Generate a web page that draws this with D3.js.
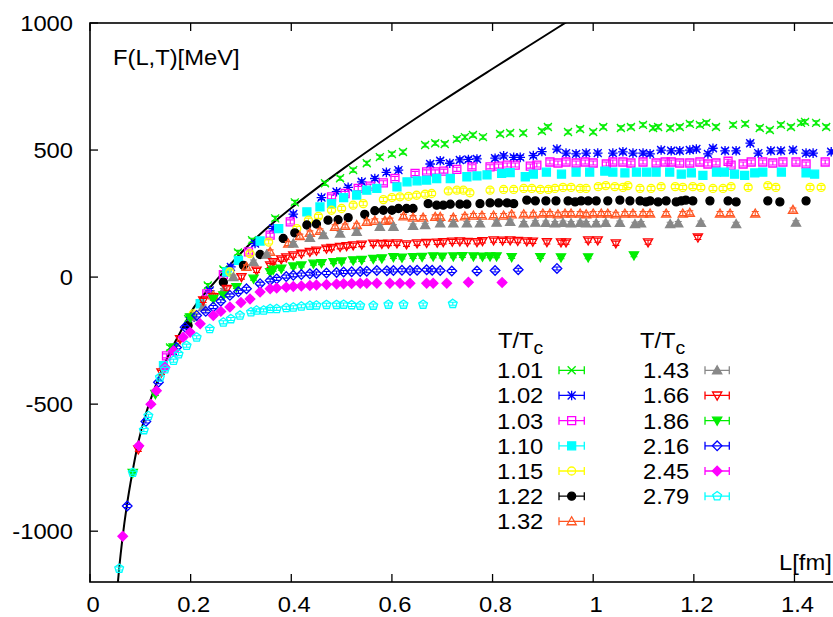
<!DOCTYPE html>
<html><head><meta charset="utf-8">
<script src="https://cdn.jsdelivr.net/npm/d3@7"></script>
<style>
html,body{margin:0;padding:0;background:#fff;}
svg{display:block;}
text{font-family:"Liberation Sans",Arial,Helvetica,sans-serif;fill:#000;}
</style></head>
<body>
<svg id="chart" width="833" height="617"></svg>
<script>
// ---------------- data ----------------
const temps = ["1.01","1.02","1.03","1.10","1.15","1.22","1.32","1.43","1.66","1.86","2.16","2.45","2.79"];
const colors = ["#00ee00","#0000ff","#ff00ff","#00ffff","#ffff00","#000000","#ff5522","#888888","#ff0000","#00ee00","#0000ff","#ff00ff","#00ffff"];
const symbols = ["cross","star","square","squareF","circle","circleF","tri","triF","triDown","triDownF","diamond","diamondF","pentagon"];
const seriesErr = [8,8,8,8,8,8,8,8,8,6,6,6,6];

const xTicks = [0,0.2,0.4,0.6,0.8,1,1.2,1.4];
const xTickLabels = ["0","0.2","0.4","0.6","0.8","1","1.2","1.4"];
const yTicks = [-1000,-500,0,500,1000];
const yTickLabels = ["-1000","-500","0","500","1000"];

// T=0 curve
const curveT0 = [[0.0555,-1200],[0.058,-1146],[0.065,-1020],[0.073,-902],[0.084,-771],[0.096,-650],[0.11,-545],[0.119,-490],[0.14,-380],[0.16,-290],[0.18,-215],[0.2,-140],[0.25,-15],[0.3,95],[0.35,190],[0.4,272],[0.5,422],[0.6,561],[0.7,693],[0.8,820],[0.9,945],[0.96,1020]];

const s101 = [[0.159,-277],[0.195,-165],[0.234,-33],[0.265,30],[0.294,97],[0.322,145],[0.368,231],[0.407,294],[0.467,369],[0.497,389],[0.523,421],[0.550,448],[0.576,472],[0.600,484],[0.622,492],[0.666,520],[0.686,527],[0.705,524],[0.729,543],[0.745,551],[0.761,559],[0.781,551],[0.815,563],[0.835,567],[0.861,567],[0.898,575],[0.910,591],[0.950,571],[0.974,583],[1.000,571],[1.020,591],[1.055,587],[1.075,591],[1.099,599],[1.119,587],[1.129,591],[1.153,587],[1.172,591],[1.192,603],[1.212,599],[1.225,607],[1.244,591],[1.278,599],[1.302,603],[1.331,587],[1.351,579],[1.373,599],[1.393,591],[1.413,607],[1.421,611],[1.443,607],[1.463,591]];
const s102 = [[0.166,-296],[0.200,-160],[0.238,-53],[0.280,40],[0.328,132],[0.364,191],[0.404,248],[0.460,313],[0.490,336],[0.513,353],[0.540,375],[0.566,388],[0.589,412],[0.613,421],[0.676,445],[0.696,458],[0.715,448],[0.735,461],[0.752,463],[0.769,465],[0.805,468],[0.822,477],[0.842,471],[0.855,471],[0.881,478],[0.898,494],[0.928,504],[0.946,488],[0.966,485],[0.986,488],[1.009,488],[1.039,488],[1.059,493],[1.079,488],[1.099,488],[1.113,485],[1.135,500],[1.155,497],[1.172,497],[1.192,500],[1.205,504],[1.228,485],[1.238,507],[1.262,497],[1.284,497],[1.312,527],[1.328,488],[1.353,497],[1.373,497],[1.397,500],[1.423,488],[1.437,488],[1.473,493]];
const s103 = [[0.152,-310],[0.232,-66],[0.265,10],[0.315,99],[0.358,165],[0.398,217],[0.480,316],[0.507,329],[0.533,349],[0.557,358],[0.583,371],[0.606,388],[0.646,408],[0.669,414],[0.686,414],[0.703,417],[0.729,424],[0.759,434],[0.795,434],[0.812,437],[0.829,441],[0.845,441],[0.875,437],[0.888,441],[0.914,453],[0.930,449],[0.946,453],[0.966,449],[0.984,453],[1.000,449],[1.026,445],[1.039,453],[1.059,453],[1.075,449],[1.099,453],[1.125,449],[1.143,453],[1.155,453],[1.172,449],[1.192,449],[1.212,453],[1.228,445],[1.244,449],[1.268,456],[1.274,441],[1.298,445],[1.314,453],[1.337,453],[1.357,449],[1.377,453],[1.403,453],[1.423,445],[1.461,453]];
const s110 = [[0.146,-349],[0.219,-105],[0.272,20],[0.295,66],[0.338,142],[0.375,191],[0.431,257],[0.457,276],[0.480,289],[0.504,313],[0.530,323],[0.550,342],[0.570,349],[0.610,355],[0.630,375],[0.650,379],[0.669,382],[0.689,388],[0.716,388],[0.749,395],[0.769,398],[0.789,402],[0.818,408],[0.835,411],[0.865,395],[0.881,405],[0.907,413],[0.937,405],[0.966,413],[0.993,413],[1.023,417],[1.039,413],[1.063,410],[1.086,413],[1.106,413],[1.125,413],[1.152,413],[1.175,405],[1.195,410],[1.218,400],[1.245,413],[1.261,413],[1.281,405],[1.301,400],[1.321,410],[1.337,413],[1.374,413],[1.423,410],[1.440,405]];
const s115 = [[0.205,-145],[0.278,20],[0.318,92],[0.355,138],[0.411,191],[0.434,224],[0.454,239],[0.480,263],[0.500,270],[0.523,283],[0.543,289],[0.583,305],[0.600,313],[0.616,316],[0.633,318],[0.649,322],[0.666,326],[0.679,329],[0.712,339],[0.729,342],[0.742,342],[0.755,332],[0.795,342],[0.822,345],[0.842,345],[0.862,349],[0.878,349],[0.895,345],[0.911,345],[0.924,349],[0.940,353],[0.956,353],[0.974,349],[0.986,349],[1.010,356],[1.025,360],[1.043,356],[1.059,353],[1.069,360],[1.093,349],[1.115,349],[1.135,356],[1.163,356],[1.178,353],[1.198,356],[1.214,353],[1.238,349],[1.258,349],[1.274,356],[1.308,353],[1.347,360],[1.363,353],[1.431,353],[1.453,353]];
const s122 = [[0.195,-191],[0.265,-20],[0.305,46],[0.338,89],[0.384,152],[0.407,174],[0.431,205],[0.450,209],[0.473,224],[0.493,226],[0.513,234],[0.546,247],[0.566,261],[0.583,263],[0.600,263],[0.613,270],[0.629,270],[0.642,270],[0.672,289],[0.689,283],[0.702,283],[0.716,287],[0.735,287],[0.749,287],[0.775,289],[0.795,292],[0.812,292],[0.829,292],[0.842,289],[0.868,303],[0.885,300],[0.906,300],[0.926,300],[0.950,300],[0.964,296],[0.976,300],[0.990,300],[1.006,300],[1.029,300],[1.053,303],[1.073,300],[1.093,300],[1.105,296],[1.113,300],[1.129,296],[1.145,300],[1.165,296],[1.175,300],[1.184,303],[1.198,300],[1.232,300],[1.268,300],[1.284,296],[1.347,300],[1.371,296],[1.423,300]];
const s132 = [[0.245,-72],[0.311,40],[0.358,99],[0.394,132],[0.417,161],[0.437,174],[0.457,182],[0.487,198],[0.507,201],[0.530,204],[0.550,217],[0.566,221],[0.586,221],[0.596,224],[0.623,239],[0.642,234],[0.662,234],[0.686,237],[0.696,237],[0.722,234],[0.745,239],[0.762,242],[0.779,242],[0.802,242],[0.822,242],[0.838,247],[0.862,247],[0.881,247],[0.900,250],[0.914,250],[0.930,247],[0.944,250],[0.956,250],[0.974,250],[0.986,247],[1.000,250],[1.016,250],[1.029,250],[1.045,247],[1.063,250],[1.079,250],[1.099,250],[1.113,250],[1.145,250],[1.178,250],[1.192,253],[1.252,250],[1.272,250],[1.322,250],[1.397,264]];
const s143 = [[0.205,-158],[0.225,-118],[0.265,-53],[0.285,0],[0.325,59],[0.351,88],[0.404,132],[0.437,154],[0.464,165],[0.497,171],[0.530,178],[0.576,198],[0.603,198],[0.642,201],[0.666,204],[0.696,211],[0.722,211],[0.749,211],[0.775,211],[0.808,214],[0.835,217],[0.862,211],[0.885,214],[0.906,213],[0.924,211],[0.940,213],[0.956,211],[0.974,213],[0.986,211],[1.006,211],[1.025,213],[1.053,213],[1.083,208],[1.095,211],[1.153,208],[1.169,211],[1.214,213],[1.284,208],[1.403,214]];
const s166 = [[0.096,-678],[0.142,-375],[0.179,-244],[0.225,-92],[0.245,-79],[0.272,-46],[0.301,0],[0.331,26],[0.358,46],[0.364,59],[0.380,70],[0.390,78],[0.404,86],[0.420,92],[0.437,99],[0.450,104],[0.470,112],[0.480,115],[0.497,119],[0.510,122],[0.523,125],[0.540,128],[0.563,132],[0.580,131],[0.593,132],[0.610,133],[0.629,129],[0.650,133],[0.669,135],[0.690,136],[0.702,138],[0.720,140],[0.735,141],[0.750,139],[0.769,138],[0.780,142],[0.802,145],[0.820,144],[0.835,145],[0.850,143],[0.868,141],[0.880,140],[0.908,138],[0.936,137],[0.946,137],[0.990,145],[1.009,145],[1.045,133],[1.109,137],[1.208,156]];
const s186 = [[0.085,-770],[0.130,-460],[0.166,-277],[0.199,-158],[0.245,-86],[0.265,-72],[0.291,-39],[0.325,-6],[0.358,20],[0.364,29],[0.380,33],[0.404,42],[0.420,46],[0.444,53],[0.460,55],[0.484,59],[0.500,62],[0.523,66],[0.540,68],[0.563,72],[0.580,74],[0.603,79],[0.620,77],[0.642,79],[0.660,80],[0.682,82],[0.700,81],[0.722,82],[0.740,83],[0.762,82],[0.780,81],[0.795,82],[0.808,82],[0.838,79],[0.895,79],[0.936,78],[0.990,78],[1.081,86]];
const s216 = [[0.074,-901],[0.111,-568],[0.136,-414],[0.172,-277],[0.189,-197],[0.212,-151],[0.230,-135],[0.245,-118],[0.260,-95],[0.278,-72],[0.295,-58],[0.311,-46],[0.338,-26],[0.358,-13],[0.371,-7],[0.390,2],[0.404,7],[0.420,10],[0.437,13],[0.450,14],[0.470,16],[0.490,18],[0.504,20],[0.520,21],[0.537,22],[0.550,23],[0.570,26],[0.590,25],[0.603,26],[0.620,27],[0.636,26],[0.650,27],[0.669,29],[0.680,27],[0.696,26],[0.719,24],[0.769,24],[0.805,26],[0.851,29],[0.928,34]];
const s245 = [[0.065,-1020],[0.097,-664],[0.121,-500],[0.132,-447],[0.149,-355],[0.166,-290],[0.185,-237],[0.199,-217],[0.219,-184],[0.245,-151],[0.260,-135],[0.278,-118],[0.300,-100],[0.318,-86],[0.338,-59],[0.358,-46],[0.371,-43],[0.390,-40],[0.404,-37],[0.420,-35],[0.437,-33],[0.450,-31],[0.470,-29],[0.490,-27],[0.504,-26],[0.520,-25],[0.537,-24],[0.550,-24],[0.570,-24],[0.596,-24],[0.616,-24],[0.636,-24],[0.669,-24],[0.682,-24],[0.709,-24],[0.752,-20],[0.819,-21]];
const s279 = [[0.058,-1147],[0.085,-770],[0.107,-602],[0.116,-546],[0.139,-395],[0.149,-362],[0.166,-329],[0.176,-303],[0.192,-270],[0.212,-237],[0.238,-204],[0.265,-178],[0.280,-165],[0.298,-151],[0.320,-138],[0.331,-131],[0.345,-131],[0.358,-125],[0.371,-125],[0.390,-121],[0.404,-119],[0.420,-115],[0.437,-112],[0.450,-111],[0.470,-109],[0.490,-109],[0.504,-108],[0.520,-110],[0.537,-112],[0.563,-112],[0.593,-108],[0.623,-108],[0.662,-108],[0.721,-105]];

const seriesData = [s101,s102,s103,s110,s115,s122,s132,s143,s166,s186,s216,s245,s279];

// ---------------- drawing ----------------
const svg = d3.select("#chart");
const mL = 90, mR = 844.8, mT = 23, mB = 582;
const x = d3.scaleLinear().domain([0,1.5]).range([mL,mR]);
const y = d3.scaleLinear().domain([-1200,1000]).range([mB,mT]);
const FS = 22, SX = 1.08;

function txt(g, px, py, str, anchor){
  return g.append("text")
    .attr("transform", `translate(${px},${py}) scale(${SX},1)`)
    .attr("text-anchor", anchor)
    .style("font-size", FS+"px")
    .text(str);
}

svg.append("defs").append("clipPath").attr("id","plotclip")
  .append("rect").attr("x",mL).attr("y",mT).attr("width",mR-mL).attr("height",mB-mT);

const plot = svg.append("g").attr("clip-path","url(#plotclip)");

// T=0 curve
plot.append("path").datum(curveT0)
  .attr("d", d3.line().x(d=>x(d[0])).y(d=>y(d[1])).curve(d3.curveMonotoneX))
  .attr("fill","none").attr("stroke","#000").attr("stroke-width",2);

function symPath(type, s){
  switch(type){
    case "cross": return `M${-s},${-s}L${s},${s}M${-s},${s}L${s},${-s}`;
    case "star": return `M${-s},${-s}L${s},${s}M${-s},${s}L${s},${-s}M0,${-s*1.2}L0,${s*1.2}M${-s*1.2},0L${s*1.2},0`;
    case "square": case "squareF": return `M${-s},${-s}H${s}V${s}H${-s}Z`;
    case "circle": case "circleF": return `M${s},0A${s},${s} 0 1 1 ${-s},0A${s},${s} 0 1 1 ${s},0Z`;
    case "tri": case "triF": { const h=s*1.15; return `M0,${-h}L${h},${h*0.75}L${-h},${h*0.75}Z`; }
    case "triDown": case "triDownF": { const h=s*1.15; return `M0,${h}L${h},${-h*0.75}L${-h},${-h*0.75}Z`; }
    case "diamond": case "diamondF": { const h=s*1.2; return `M0,${-h}L${h},0L0,${h}L${-h},0Z`; }
    case "pentagon": {
      const h=s*1.15; let p="";
      for(let k=0;k<5;k++){ const a=-Math.PI/2+k*2*Math.PI/5; p+=(k?"L":"M")+(h*Math.cos(a)).toFixed(2)+","+(h*Math.sin(a)).toFixed(2); }
      return p+"Z";
    }
  }
}
const filled = t => t.endsWith("F");

function drawMark(g, cx, cy, i, errPx, capW){
  const col = colors[i], t = symbols[i];
  g.append("path")
    .attr("d", `M${cx},${cy-errPx}V${cy+errPx}M${cx-capW},${cy-errPx}H${cx+capW}M${cx-capW},${cy+errPx}H${cx+capW}`)
    .attr("stroke", col).attr("stroke-width",1.1).attr("fill","none");
  g.append("path")
    .attr("transform", `translate(${cx},${cy})`)
    .attr("d", symPath(t, 4))
    .attr("fill", filled(t) ? col : "none")
    .attr("stroke", col).attr("stroke-width", 1.3);
}

seriesData.forEach((arr, i) => {
  const g = plot.append("g");
  arr.forEach(d => {
    const e = Math.abs(y(d[1]+seriesErr[i]) - y(d[1]));
    drawMark(g, x(d[0]), y(d[1]), i, e, 3.5);
  });
});

// frame
svg.append("rect").attr("x",mL).attr("y",mT).attr("width",mR-mL).attr("height",mB-mT)
  .attr("fill","none").attr("stroke","#000").attr("stroke-width",1.6);

// ticks
const axes = svg.append("g").attr("stroke","#000").attr("stroke-width",1.3);
xTicks.forEach(v => {
  axes.append("line").attr("x1",x(v)).attr("x2",x(v)).attr("y1",mB).attr("y2",mB-8);
  axes.append("line").attr("x1",x(v)).attr("x2",x(v)).attr("y1",mT).attr("y2",mT+8);
});
yTicks.forEach(v => {
  axes.append("line").attr("x1",mL).attr("x2",mL+8).attr("y1",y(v)).attr("y2",y(v));
});

const lab = svg.append("g");
xTicks.forEach((v,k) => txt(lab, x(v)+3, 612, xTickLabels[k], "middle"));
yTicks.forEach((v,k) => txt(lab, 73, y(v)+8, yTickLabels[k], "end"));

txt(lab, 113, 65, "F(L,T)[MeV]", "start");
txt(lab, 779, 569.5, "L[fm]", "start");

// legend
const leg = svg.append("g");
function legTitle(px){
  const t = leg.append("text")
    .attr("transform", `translate(${px},347.5) scale(${SX},1)`)
    .style("font-size", FS+"px");
  t.append("tspan").text("T/T");
  t.append("tspan").attr("dy",6).style("font-size","18px").text("c");
}
legTitle(498);
legTitle(640);
temps.forEach((tname, i) => {
  const col2 = i >= 7;
  const row = col2 ? i-7 : i;
  const base = 378.3 + row*25.17;
  const numEnd = col2 ? 689.3 : 543.3;
  const x1 = col2 ? 705 : 559, x2 = col2 ? 729.3 : 584.3;
  txt(leg, numEnd, base, tname, "end");
  const cy = base - 8;
  const col = colors[i];
  leg.append("path")
    .attr("d", `M${x1},${cy}H${x2}M${x1},${cy-4}V${cy+4}M${x2},${cy-4}V${cy+4}`)
    .attr("stroke", col).attr("stroke-width",1.3).attr("fill","none");
  leg.append("path")
    .attr("transform", `translate(${(x1+x2)/2},${cy})`)
    .attr("d", symPath(symbols[i], 4))
    .attr("fill", filled(symbols[i]) ? col : "none")
    .attr("stroke", col).attr("stroke-width",1.3);
});
</script>
</body></html>
